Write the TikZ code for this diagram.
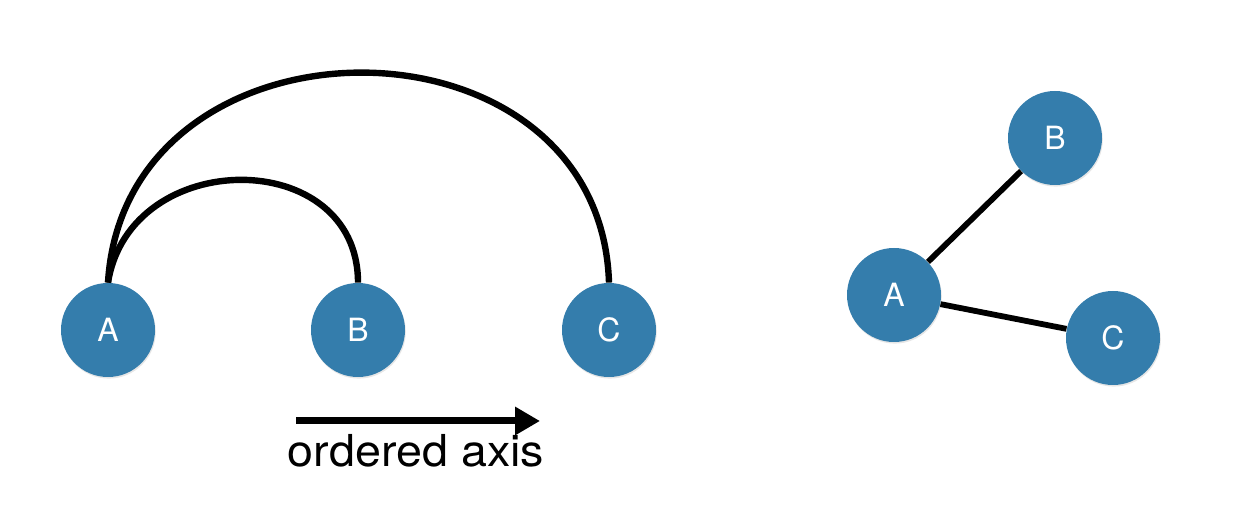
\documentclass[tikz,border=0pt]{standalone}
\usepackage{fontspec}
\setmainfont{TeX Gyre Heros}
\usepackage{tikz}
\usetikzlibrary{arrows.meta,shadows}

\definecolor{nodeblue}{RGB}{52,125,172}

\begin{document}
\begin{tikzpicture}[x=0.5pt,y=-0.5pt]
    \tikzset{vertex/.style={circle, fill=nodeblue, minimum size=47pt, inner sep=0pt,
        text=white, font=\fontsize{16}{16}\selectfont,
        drop shadow={opacity=0.2, shadow xshift=0.4pt, shadow yshift=-0.8pt}},
      arcline/.style={line width=3.2pt},
      edgeline/.style={line width=2.9pt},
      axisline/.style={line width=3.5pt, -{Triangle[length=12.5pt, width=13.5pt]}}}
    \useasboundingbox (0,0) rectangle (1254,522);
    % linear layout
    \node [vertex] (lA) at (108,330) {A};
    \node [vertex] (lB) at (358,330) {B};
    \node [vertex] (lC) at (609,330) {C};
    \draw [arcline] (lA.north) .. controls +(22,-137) and +(0,-137) .. (lB.north);
    \draw [arcline] (lA.north) .. controls +(17,-280) and +(-9,-280) .. (lC.north);
    \coordinate (axstart) at (296,421);
    \coordinate (axend) at (540,421);
    \draw [axisline] (axstart) -- (axend);
    \node [anchor=base, xscale=1.06, font=\fontsize{22}{22}\selectfont] (axlabel) at (416,467) {ordered axis};
    % graph layout
    \node [vertex] (rA) at (894,295) {A};
    \node [vertex] (rB) at (1055,138) {B};
    \node [vertex] (rC) at (1113,338) {C};
    \draw [edgeline] (rA) -- (rB);
    \draw [edgeline] (rA) -- (rC);
\end{tikzpicture}
\end{document}
